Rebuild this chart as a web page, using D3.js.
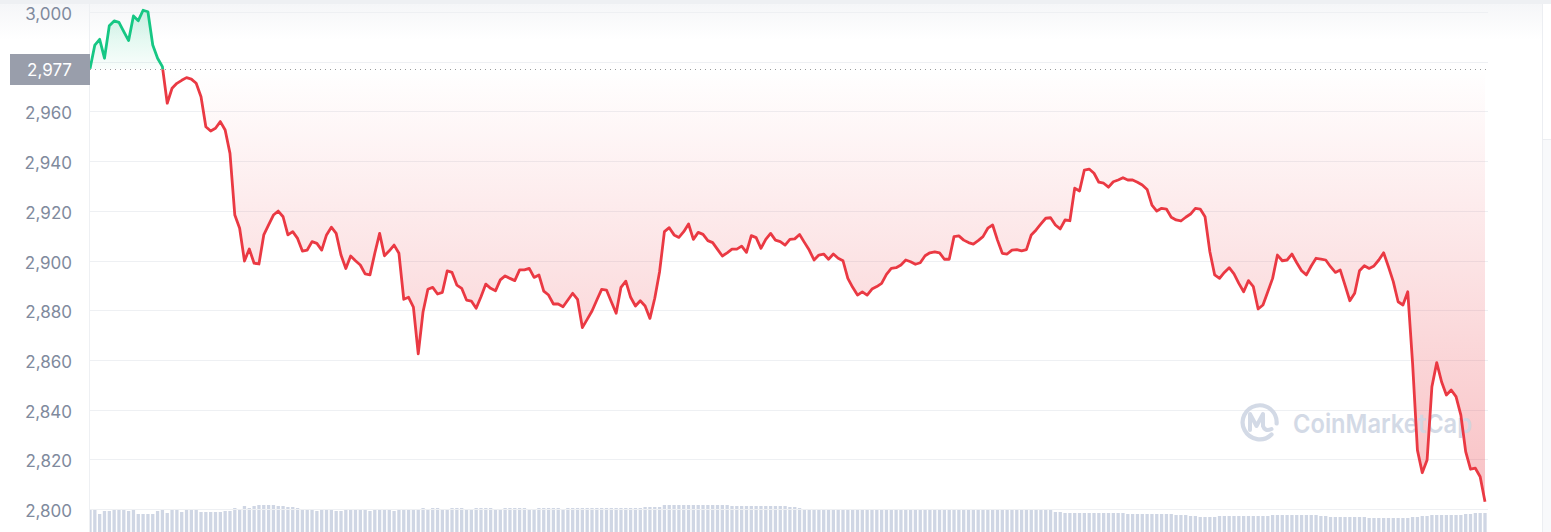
<!DOCTYPE html>
<html><head><meta charset="utf-8">
<script src="https://cdn.jsdelivr.net/npm/d3@7"></script>
<style>html,body{margin:0;padding:0;background:#fff;overflow:hidden}svg{display:block}</style>
</head><body><svg id="c" width="1551" height="532"></svg>
<script>
// ---- data ----
const openPrice = 2977;
const yTicks = [2800, 2820, 2840, 2860, 2880, 2900, 2920, 2940, 2960, 2980, 3000];
const prices = [
2977.2,2986.7,2989.0,2981.4,2994.5,2996.4,2995.8,2992.1,2988.5,2998.4,
2996.5,3000.7,3000.1,2986.7,2981.4,2978.0,2963.3,2969.3,2971.3,2972.5,
2973.6,2973.0,2971.3,2965.9,2953.8,2952.1,2953.2,2955.9,2952.5,2943.1,
2918.3,2913.0,2899.8,2904.6,2898.9,2898.6,2910.3,2914.3,2918.3,2919.9,
2917.6,2910.3,2911.6,2908.9,2903.8,2904.2,2907.6,2906.9,2904.2,2910.3,
2913.4,2910.9,2902.2,2896.8,2901.8,2899.9,2898.2,2894.6,2894.2,2902.9,
2910.9,2901.9,2903.9,2906.2,2902.9,2884.4,2885.2,2881.2,2862.4,2879.4,
2888.4,2889.2,2886.5,2887.2,2895.8,2895.2,2890.1,2888.8,2884.1,2883.7,
2880.8,2885.4,2890.5,2888.8,2887.8,2892.2,2893.8,2892.8,2891.9,2896.2,
2896.2,2896.8,2893.2,2894.2,2887.7,2886.1,2882.5,2882.5,2881.4,2884.1,
2886.8,2884.4,2873.0,2876.3,2879.7,2884.1,2888.4,2888.1,2883.4,2878.8,
2889.2,2891.7,2885.2,2881.7,2883.8,2881.7,2876.7,2884.8,2895.5,2911.6,
2913.2,2910.3,2909.3,2911.6,2914.7,2908.5,2911.3,2910.5,2908.0,2907.2,
2904.5,2901.8,2903.1,2904.6,2904.6,2905.8,2903.3,2910.0,2909.2,2904.9,
2908.5,2910.9,2908.2,2907.6,2906.2,2908.5,2908.7,2910.5,2907.3,2904.2,
2900.2,2902.2,2902.6,2900.5,2902.6,2900.9,2899.9,2892.8,2889.2,2886.1,
2887.4,2886.1,2888.5,2889.5,2890.8,2894.4,2896.8,2897.1,2898.2,2900.2,
2899.5,2898.5,2899.1,2901.9,2903.1,2903.5,2903.1,2900.5,2900.5,2909.6,
2909.9,2908.2,2907.2,2906.6,2908.0,2909.6,2913.0,2914.3,2908.2,2902.9,
2902.6,2904.2,2904.4,2903.9,2904.4,2910.3,2912.3,2914.7,2917.0,2917.2,
2914.3,2912.7,2916.3,2916.0,2929.1,2928.0,2936.4,2936.8,2935.1,2931.5,
2931.1,2929.5,2931.7,2932.4,2933.3,2932.4,2932.4,2931.5,2930.4,2928.6,
2922.3,2919.9,2921.0,2920.7,2917.4,2916.3,2915.9,2917.4,2918.7,2921.0,
2920.7,2917.6,2903.5,2894.2,2892.8,2895.2,2897.1,2894.6,2890.8,2887.4,
2891.9,2889.5,2880.5,2882.1,2887.4,2892.8,2902.2,2899.9,2900.2,2902.6,
2899.1,2895.9,2894.2,2897.8,2900.9,2900.6,2900.2,2897.5,2895.2,2896.2,
2890.1,2883.8,2886.8,2895.9,2897.9,2896.8,2897.8,2900.2,2903.1,2897.5,
2891.5,2883.4,2882.1,2887.4,2858.6,2823.7,2814.6,2819.7,2849.2,2858.9,
2851.2,2845.9,2847.9,2845.2,2837.8,2823.1,2816.0,2816.4,2813.0,2802.9
];
const volumes = [
23,22,18,21,21,23,23,23,21,23,18,18,18,
18,21,23,19,23,23,20,23,
23,23,20,20,20,20,20,21,21,
24,23,26,24,26,27,27,27,27,26,26,25,25,24,
23,22,22,21,22,23,22,21,21,22,23,23,22,22,21,22,22,23,22,21,22,22,23,23,22,
24,23,24,24,23,23,24,24,24,23,23,24,24,24,24,23,23,24,24,24,24,24,23,23,24,24,24,24,24,23,24,24,24,24,24,24,24,24,
24,24,24,24,24,24,
24,24,25,25,25,25,
27,27,27,27,27,27,27,27,27,27,27,27,27,27,
26,26,26,26,26,26,26,26,26,26,26,26,
25,25,24,
23,23,23,23,23,23,23,23,23,23,23,23,23,23,23,23,23,23,23,23,23,23,23,23,23,23,23,23,23,23,23,
22,22,22,22,22,22,22,22,22,22,22,22,22,22,22,22,22,22,22,22,22,
20,20,19,19,19,19,19,19,19,19,19,19,19,19,19,18,18,18,18,18,18,18,18,18,18,17,17,17,16,16,
15,15,15,15,
16,16,16,16,16,16,16,16,16,16,16,
17,17,17,17,17,17,17,17,17,17,
16,16,
15,15,15,15,15,15,15,15,
14,14,14,14,14,14,14,14,14,
15,15,16,16,
17,17,17,17,17,17,17,
18,18,19,19,19
];

// ---- chart ----
const W = 1551, H = 532;
const L = 90, R = 1485, GR = 1488;
const svg = d3.select('#c');
const defs = svg.append('defs');

const x = d3.scaleLinear().domain([0, prices.length - 1]).range([L, R]);
const xv = d3.scaleLinear().domain([0, volumes.length - 1]).range([L, R]);
const y = d3.scaleLinear().domain([2800, 3000]).range([509, 12]);
const hv = d3.scaleLinear().domain([0, 27]).range([0, 27]);
const yBase = y(openPrice);

// top shading
const tg = defs.append('linearGradient').attr('id','topg').attr('x1',0).attr('y1',0).attr('x2',0).attr('y2',1);
tg.append('stop').attr('offset','0%').attr('stop-color','#f5f6f8');
tg.append('stop').attr('offset','100%').attr('stop-color','#ffffff');
svg.append('rect').attr('x',0).attr('y',4).attr('width',1542).attr('height',36).attr('fill','url(#topg)');
svg.append('rect').attr('x',0).attr('y',0).attr('width',W).attr('height',4).attr('fill','#eef0f3');

// right panel
svg.append('rect').attr('x',1543).attr('y',139).attr('width',8).attr('height',H-139).attr('fill','#f8f9fb');
svg.append('line').attr('x1',1542.5).attr('x2',1542.5).attr('y1',4).attr('y2',H).attr('stroke','#eceef2');
svg.append('line').attr('x1',1542.5).attr('x2',W).attr('y1',139.5).attr('y2',139.5).attr('stroke','#eceef2');

// clip paths
defs.append('clipPath').attr('id','plotclip').append('rect').attr('x',L).attr('y',0).attr('width',GR-L).attr('height',H);
defs.append('clipPath').attr('id','above').append('rect').attr('x',0).attr('y',0).attr('width',W).attr('height',yBase);
defs.append('clipPath').attr('id','below').append('rect').attr('x',0).attr('y',yBase).attr('width',W).attr('height',H-yBase);

// volume bars
svg.append('g').attr('clip-path','url(#plotclip)').selectAll('rect').data(volumes).join('rect')
  .attr('x',(d,i)=>xv(i)-1.65).attr('width',3.3)
  .attr('y',d=>H-hv(d)).attr('height',d=>hv(d))
  .attr('fill','#cfd6e4');

// gridlines
svg.append('g').selectAll('line').data(yTicks).join('line')
  .attr('x1',L).attr('x2',GR)
  .attr('y1',d=>Math.round(y(d))+0.5).attr('y2',d=>Math.round(y(d))+0.5)
  .attr('stroke','#eef0f3').attr('stroke-width',1);
svg.append('line').attr('x1',L-0.5).attr('x2',L-0.5).attr('y1',4).attr('y2',H).attr('stroke','#eef0f3');

// gradients
const rg = defs.append('linearGradient').attr('id','redg').attr('gradientUnits','userSpaceOnUse')
  .attr('x1',0).attr('x2',0).attr('y1',yBase).attr('y2',509);
rg.append('stop').attr('offset','0%').attr('stop-color','#ea3943').attr('stop-opacity',0.0);
rg.append('stop').attr('offset','100%').attr('stop-color','#ea3943').attr('stop-opacity',0.32);
const gg = defs.append('linearGradient').attr('id','greeng').attr('gradientUnits','userSpaceOnUse')
  .attr('x1',0).attr('x2',0).attr('y1',12).attr('y2',yBase);
gg.append('stop').attr('offset','0%').attr('stop-color','#16c784').attr('stop-opacity',0.2);
gg.append('stop').attr('offset','100%').attr('stop-color','#16c784').attr('stop-opacity',0.02);

const area = d3.area().x((d,i)=>x(i)).y0(yBase).y1(d=>y(d));
const line = d3.line().x((d,i)=>x(i)).y(d=>y(d));

svg.append('path').datum(prices).attr('d',area).attr('fill','url(#redg)').attr('clip-path','url(#below)');
svg.append('path').datum(prices).attr('d',area).attr('fill','url(#greeng)').attr('clip-path','url(#above)');

// watermark
const wm = svg.append('g').attr('opacity',0.9);
wm.append('path')
  .attr('d','M 1271.5 434.5 A 17 17 0 1 1 1276.6 423.5')
  .attr('fill','none').attr('stroke','#cfd6e4').attr('stroke-width',4.2).attr('stroke-linecap','round');
wm.append('path')
  .attr('d','M 1250 430 L 1250 414 L 1256.5 426 L 1263 414 L 1263 426 Q 1265 432 1271.5 429')
  .attr('fill','none').attr('stroke','#cfd6e4').attr('stroke-width',4).attr('stroke-linecap','round').attr('stroke-linejoin','round');
wm.append('text').attr('x',1293).attr('y',433)
  .attr('font-family','Inter, "Noto Sans", sans-serif').attr('font-weight',600).attr('font-size',26)
  .attr('textLength',179).attr('lengthAdjust','spacingAndGlyphs')
  .attr('fill','#cfd6e4').text('CoinMarketCap');

// baseline dotted
svg.append('line').attr('x1',L).attr('x2',R+1).attr('y1',Math.round(yBase)+0.5).attr('y2',Math.round(yBase)+0.5)
  .attr('stroke','#9b9b9b').attr('stroke-width',1).attr('stroke-dasharray','1,4');

// price lines
svg.append('path').datum(prices).attr('d',line).attr('fill','none').attr('stroke','#ea3943')
  .attr('stroke-width',2.8).attr('stroke-linejoin','round').attr('clip-path','url(#below)');
svg.append('path').datum(prices).attr('d',line).attr('fill','none').attr('stroke','#16c784')
  .attr('stroke-width',2.8).attr('stroke-linejoin','round').attr('clip-path','url(#above)');

// y labels
const fmt = d3.format(',');
svg.append('g').selectAll('text').data(yTicks.filter(t=>t!==2980)).join('text')
  .attr('x',72).attr('y',d=>y(d)+8)
  .attr('text-anchor','end')
  .attr('font-family','Inter, "Noto Sans", sans-serif').attr('font-size',17)
  .attr('fill','#808a9d').text(d=>fmt(d));

// current/open badge
svg.append('rect').attr('x',10).attr('y',54).attr('width',80).attr('height',31).attr('fill','#999eab');
svg.append('text').attr('x',72).attr('y',yBase+6.5).attr('text-anchor','end')
  .attr('font-family','Inter, "Noto Sans", sans-serif').attr('font-size',17)
  .attr('fill','#ffffff').text(fmt(openPrice));
</script></body></html>
